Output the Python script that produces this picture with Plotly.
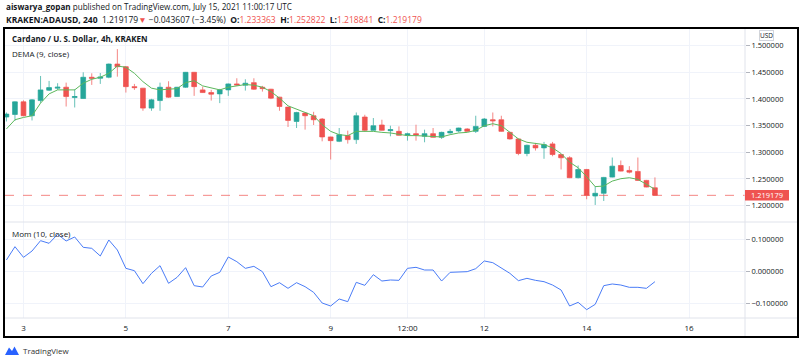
import plotly.graph_objects as go

# ---------------- data ----------------
dates = [
    "2021-07-02 16:00", "2021-07-02 20:00",
    "2021-07-03 00:00", "2021-07-03 04:00", "2021-07-03 08:00", "2021-07-03 12:00", "2021-07-03 16:00", "2021-07-03 20:00",
    "2021-07-04 00:00", "2021-07-04 04:00", "2021-07-04 08:00", "2021-07-04 12:00", "2021-07-04 16:00", "2021-07-04 20:00",
    "2021-07-05 00:00", "2021-07-05 04:00", "2021-07-05 08:00", "2021-07-05 12:00", "2021-07-05 16:00", "2021-07-05 20:00",
    "2021-07-06 00:00", "2021-07-06 04:00", "2021-07-06 08:00", "2021-07-06 12:00", "2021-07-06 16:00", "2021-07-06 20:00",
    "2021-07-07 00:00", "2021-07-07 04:00", "2021-07-07 08:00", "2021-07-07 12:00", "2021-07-07 16:00", "2021-07-07 20:00",
    "2021-07-08 00:00", "2021-07-08 04:00", "2021-07-08 08:00", "2021-07-08 12:00", "2021-07-08 16:00", "2021-07-08 20:00",
    "2021-07-09 00:00", "2021-07-09 04:00", "2021-07-09 08:00", "2021-07-09 12:00", "2021-07-09 16:00", "2021-07-09 20:00",
    "2021-07-10 00:00", "2021-07-10 04:00", "2021-07-10 08:00", "2021-07-10 12:00", "2021-07-10 16:00", "2021-07-10 20:00",
    "2021-07-11 00:00", "2021-07-11 04:00", "2021-07-11 08:00", "2021-07-11 12:00", "2021-07-11 16:00", "2021-07-11 20:00",
    "2021-07-12 00:00", "2021-07-12 04:00", "2021-07-12 08:00", "2021-07-12 12:00", "2021-07-12 16:00", "2021-07-12 20:00",
    "2021-07-13 00:00", "2021-07-13 04:00", "2021-07-13 08:00", "2021-07-13 12:00", "2021-07-13 16:00", "2021-07-13 20:00",
    "2021-07-14 00:00", "2021-07-14 04:00", "2021-07-14 08:00", "2021-07-14 12:00", "2021-07-14 16:00", "2021-07-14 20:00",
    "2021-07-15 00:00", "2021-07-15 04:00", "2021-07-15 08:00",
]

opens = [
    1.3661, 1.3709, 1.3946, 1.3685, 1.3970, 1.4164, 1.4202, 1.4220, 1.4026, 1.4008,
    1.4407, 1.4388, 1.4407, 1.4655, 1.4605, 1.4231, 1.4202, 1.3828, 1.3970, 1.4220,
    1.4045, 1.4220, 1.4500, 1.4170, 1.4120, 1.4095, 1.4170, 1.4282, 1.4258, 1.4306,
    1.4220, 1.4183, 1.4034, 1.3847, 1.3578, 1.3735, 1.3685, 1.3623, 1.3287, 1.3205,
    1.3312, 1.3237, 1.3661, 1.3411, 1.3511, 1.3405, 1.3392, 1.3317, 1.3349, 1.3299,
    1.3349, 1.3280, 1.3362, 1.3399, 1.3437, 1.3392, 1.3485, 1.3610, 1.3610, 1.3373,
    1.3250, 1.2976, 1.3131, 1.3082, 1.3157, 1.2957, 1.2896, 1.2522, 1.2677, 1.2179,
    1.2230, 1.2534, 1.2752, 1.2659, 1.2640, 1.2472, 1.233363,
]
highs = [
    1.3746, 1.3955, 1.3974, 1.3996, 1.4431, 1.4338, 1.4295, 1.4306, 1.4183, 1.4500,
    1.4481, 1.4487, 1.4664, 1.4935, 1.4618, 1.4282, 1.4207, 1.4002, 1.4306, 1.4332,
    1.4225, 1.4506, 1.4506, 1.4231, 1.4170, 1.4189, 1.4291, 1.4388, 1.4369, 1.4388,
    1.4245, 1.4189, 1.4039, 1.3853, 1.3759, 1.3746, 1.3759, 1.3642, 1.3293, 1.3455,
    1.3405, 1.3746, 1.3703, 1.3642, 1.3610, 1.3498, 1.3485, 1.3368, 1.3517, 1.3424,
    1.3455, 1.3386, 1.3437, 1.3461, 1.3452, 1.3685, 1.3642, 1.3746, 1.3685, 1.3386,
    1.3256, 1.3144, 1.3175, 1.3194, 1.3194, 1.2967, 1.2925, 1.2752, 1.2687, 1.2366,
    1.2537, 1.2901, 1.2845, 1.2739, 1.2901, 1.2481, 1.252822,
]
lows = [
    1.3578, 1.3591, 1.3675, 1.3597, 1.3927, 1.4151, 1.4170, 1.3858, 1.3840, 1.4002,
    1.4263, 1.4282, 1.4388, 1.4418, 1.4120, 1.4170, 1.3778, 1.3778, 1.3778, 1.4021,
    1.4039, 1.4207, 1.4058, 1.4114, 1.3970, 1.3922, 1.4058, 1.4245, 1.4157, 1.4170,
    1.4138, 1.3996, 1.3778, 1.3474, 1.3455, 1.3424, 1.3511, 1.3205, 1.2864, 1.3190,
    1.3162, 1.3157, 1.3386, 1.3405, 1.3405, 1.3299, 1.3312, 1.3218, 1.3218, 1.3187,
    1.3274, 1.3250, 1.3349, 1.3373, 1.3386, 1.3362, 1.3479, 1.3485, 1.3386, 1.3237,
    1.2944, 1.2925, 1.3032, 1.2877, 1.2925, 1.2677, 1.2515, 1.2509, 1.2118, 1.2011,
    1.2086, 1.2528, 1.2640, 1.2603, 1.2463, 1.2342, 1.218841,
]
closes = [
    1.3716, 1.3946, 1.3685, 1.3983, 1.4170, 1.4213, 1.4220, 1.4045, 1.4045, 1.4407,
    1.4388, 1.4412, 1.4655, 1.4605, 1.4231, 1.4213, 1.3828, 1.3983, 1.4220, 1.4034,
    1.4220, 1.4500, 1.4231, 1.4120, 1.4090, 1.4170, 1.4282, 1.4263, 1.4295, 1.4183,
    1.4194, 1.4015, 1.3858, 1.3597, 1.3746, 1.3685, 1.3610, 1.3287, 1.3218, 1.3330,
    1.3237, 1.3685, 1.3411, 1.3498, 1.3411, 1.3424, 1.3317, 1.3349, 1.3325, 1.3349,
    1.3280, 1.3373, 1.3392, 1.3455, 1.3392, 1.3485, 1.3623, 1.3591, 1.3392, 1.3250,
    1.2976, 1.3131, 1.3082, 1.3144, 1.2957, 1.2896, 1.2522, 1.2677, 1.2192, 1.2230,
    1.2528, 1.2739, 1.2646, 1.2627, 1.2472, 1.2347, 1.219179,
]
dema = [
    1.3437, 1.3610, 1.3653, 1.3685, 1.3922, 1.4095, 1.4170, 1.4170, 1.4170, 1.4295,
    1.4369, 1.4407, 1.4481, 1.4618, 1.4594, 1.4481, 1.4325, 1.4202, 1.4170, 1.4183,
    1.4194, 1.4306, 1.4343, 1.4245, 1.4202, 1.4170, 1.4220, 1.4245, 1.4270, 1.4258,
    1.4220, 1.4138, 1.4015, 1.3871, 1.3810, 1.3746, 1.3685, 1.3517, 1.3392, 1.3330,
    1.3312, 1.3392, 1.3392, 1.3392, 1.3373, 1.3362, 1.3336, 1.3312, 1.3312, 1.3299,
    1.3287, 1.3287, 1.3330, 1.3362, 1.3373, 1.3411, 1.3498, 1.3535, 1.3498, 1.3373,
    1.3250, 1.3187, 1.3162, 1.3144, 1.3082, 1.2976, 1.2814, 1.2709, 1.2541, 1.2355,
    1.2366, 1.2459, 1.2504, 1.2522, 1.2491, 1.2398, 1.2305,
]
momentum = [
    0.0344, 0.0760, 0.0427, 0.0625, 0.0948, 0.0865, 0.1146, 0.0938, 0.1063, 0.0740,
    0.0708, 0.0469, 0.0969, 0.0656, 0.0083, 0.0010, -0.0396, -0.0073, 0.0167, -0.0385,
    -0.0198, 0.0104, -0.0458, -0.0500, -0.0156, -0.0042, 0.0438, 0.0292, 0.0083, 0.0146,
    -0.0021, -0.0490, -0.0365, -0.0542, -0.0365, -0.0490, -0.0667, -0.1000, -0.1094, -0.0875,
    -0.0958, -0.0354, -0.0448, -0.0115, -0.0313, -0.0281, -0.0292, 0.0083, 0.0115, 0.0031,
    0.0031, -0.0313, -0.0042, -0.0042, -0.0021, 0.0073, 0.0313, 0.0260, 0.0083, -0.0073,
    -0.0302, -0.0229, -0.0292, -0.0333, -0.0438, -0.0594, -0.1094, -0.0979, -0.1208, -0.1042,
    -0.0458, -0.0406, -0.0438, -0.0510, -0.0510, -0.0542, -0.0333,
]

change_abs = -0.043607
change_pct = -3.45

x_tickvals = ["2021-07-03", "2021-07-05", "2021-07-07", "2021-07-09",
              "2021-07-10 12:00", "2021-07-12", "2021-07-14", "2021-07-16"]
x_ticktext = ["3", "5", "7", "9", "12:00", "12", "14", "16"]
price_tickvals = [1.20, 1.25, 1.30, 1.35, 1.40, 1.45, 1.50]
price_ticktext = ["1.200000", "1.250000", "1.300000", "1.350000", "1.400000", "1.450000", "1.500000"]
mom_tickvals = [-0.1, 0.0, 0.1]
mom_ticktext = ["\u22120.100000", "0.000000", "0.100000"]

# ---------------- layout helpers ----------------
W, H = 800, 362
ML, MR, MT, MB = 5, 55, 28, 44
PW = W - ML - MR
PH = H - MT - MB
PLOT_BOTTOM = H - MB


def px(x):
    return (x - ML) / PW


def py(y):
    return (PLOT_BOTTOM - y) / PH


PANE_SPLIT = 222
FONT = "Open Sans, Noto Sans, sans-serif"
TXT = "#131722"
GRID = "#f0f3fa"
UP = "#26a69a"
DN = "#ef5350"

fig = go.Figure()

fig.add_trace(go.Candlestick(
    x=dates, open=opens, high=highs, low=lows, close=closes,
    increasing=dict(fillcolor=UP, line=dict(color="rgba(38,166,154,0.7)", width=1)),
    decreasing=dict(fillcolor=DN, line=dict(color="rgba(239,83,80,0.7)", width=1)),
    whiskerwidth=0, xaxis="x", yaxis="y", showlegend=False, hoverinfo="skip",
))
fig.add_trace(go.Scatter(
    x=dates, y=dema, mode="lines", line=dict(color="#5cb85c", width=1),
    xaxis="x", yaxis="y", showlegend=False, hoverinfo="skip",
))
fig.add_trace(go.Scatter(
    x=dates, y=momentum, mode="lines", line=dict(color="#4a7cf7", width=1),
    xaxis="x", yaxis="y2", showlegend=False, hoverinfo="skip",
))

price_top = 1.45 + (72.3 - MT) / 533
price_bot = 1.45 - (PANE_SPLIT - 72.3) / 533
mom_top = (271 - PANE_SPLIT) / 320
mom_bot = (271 - PLOT_BOTTOM) / 320

fig.update_layout(
    width=W, height=H,
    margin=dict(l=ML, r=MR, t=MT, b=MB, pad=0),
    paper_bgcolor="white", plot_bgcolor="white",
    font=dict(family=FONT, size=8, color=TXT),
    showlegend=False,
    boxgap=0.2,
    xaxis=dict(
        type="date", range=["2021-07-02 15:20", "2021-07-17 02:13"],
        anchor="y2", domain=[0, 1],
        tickvals=x_tickvals, ticktext=x_ticktext,
        showgrid=True, gridcolor=GRID, gridwidth=1,
        showline=False, zeroline=False, ticks="", ticklen=0,
        ticklabelstandoff=4,
        rangeslider=dict(visible=False),
        tickfont=dict(size=8, color=TXT),
    ),
    yaxis=dict(
        domain=[py(PANE_SPLIT), 1], range=[price_bot, price_top],
        side="right", anchor="x",
        tickvals=price_tickvals, ticktext=price_ticktext,
        showgrid=True, gridcolor=GRID, gridwidth=1,
        zeroline=False, showline=False, ticks="outside", ticklen=4,
        tickcolor="#b2b5be", tickfont=dict(size=7.5, color=TXT),
    ),
    yaxis2=dict(
        domain=[0, py(PANE_SPLIT)], range=[mom_bot, mom_top],
        side="right", anchor="x",
        tickvals=mom_tickvals, ticktext=mom_ticktext,
        showgrid=True, gridcolor=GRID, gridwidth=1,
        zeroline=False, showline=False, ticks="outside", ticklen=4,
        tickcolor="#b2b5be", tickfont=dict(size=7.5, color=TXT),
    ),
)

shapes = []
# current price dashed line
shapes.append(dict(type="line", xref="paper", yref="y", x0=0, x1=1,
                   y0=closes[-1], y1=closes[-1],
                   line=dict(color="rgba(239,83,80,0.7)", width=1, dash="dash")))
# price axis separator
shapes.append(dict(type="line", xref="paper", yref="paper", x0=1, x1=1,
                   y0=py(337), y1=py(MT), line=dict(color="#e0e3eb", width=1)))
# pane separator
shapes.append(dict(type="line", xref="paper", yref="paper", x0=px(4), x1=px(798),
                   y0=py(PANE_SPLIT), y1=py(PANE_SPLIT), line=dict(color="#e0e3eb", width=1)))
# time axis top line
shapes.append(dict(type="line", xref="paper", yref="paper", x0=px(4), x1=px(798),
                   y0=0, y1=0, line=dict(color="#e0e3eb", width=1)))
# outer frame
shapes.append(dict(type="rect", xref="paper", yref="paper", x0=px(4), x1=px(798),
                   y0=py(337), y1=py(MT), line=dict(color="black", width=2)))
# current price label background
shapes.append(dict(type="rect", xref="paper", yref="paper", x0=px(745), x1=px(789),
                   y0=py(200.5), y1=py(190), line=dict(width=0), fillcolor=DN))
# TradingView logo icon
logo = [(5, 355), (9, 347.5), (12, 351), (14.5, 346.5), (19, 355)]
path = "M " + " L ".join(f"{px(a):.5f},{py(b):.5f}" for a, b in logo) + " Z"
shapes.append(dict(type="path", xref="paper", yref="paper", path=path,
                   line=dict(width=0), fillcolor="#2962ff"))
fig.update_layout(shapes=shapes)

red = DN
header2 = (
    f"<b>KRAKEN:ADAUSD, 240</b>  {closes[-1]:.6f}<span style='color:{red}'>\u25bc</span>"
    f" \u2212{abs(change_abs):.6f} (\u2212{abs(change_pct):.2f}%)  "
    f"<b>O:</b><span style='color:{red}'>{opens[-1]:.6f}</span>  "
    f"<b>H:</b><span style='color:{red}'>{highs[-1]:.6f}</span>  "
    f"<b>L:</b><span style='color:{red}'>{lows[-1]:.6f}</span>  "
    f"<b>C:</b><span style='color:{red}'>{closes[-1]:.6f}</span>"
)

annotations = [
    dict(text="<b>aiswarya_gopan</b> published on TradingView.com, July 15, 2021 11:00:17 UTC",
         x=px(4), y=py(7), font=dict(size=8.1, color=TXT)),
    dict(text=header2, x=px(4), y=py(19), font=dict(size=8.5, color=TXT)),
    dict(text="<b>Cardano / U. S. Dollar, 4h, KRAKEN</b>", x=px(10), y=py(39),
         font=dict(size=8, color=TXT)),
    dict(text="DEMA (9, close)", x=px(10), y=py(54), font=dict(size=8, color=TXT)),
    dict(text="Mom (10, close)", x=px(10), y=py(233), font=dict(size=8, color=TXT)),
    dict(text="TradingView", x=px(21), y=py(350), font=dict(size=8, color="#333333")),
]
for a in annotations:
    a.update(xref="paper", yref="paper", xanchor="left", yanchor="middle",
             showarrow=False, align="left")

annotations.append(dict(text=f"{closes[-1]:.6f}", xref="paper", yref="paper",
                        x=px(767), y=py(195.3), xanchor="center", yanchor="middle",
                        showarrow=False, font=dict(size=7.5, color="white")))
annotations.append(dict(text="USD", xref="paper", yref="paper",
                        x=px(767), y=py(35), xanchor="center", yanchor="middle",
                        showarrow=False, font=dict(size=6.5, color=TXT),
                        bgcolor="white", bordercolor="#d1d4dc", borderwidth=1, borderpad=0))
fig.update_layout(annotations=annotations)

fig.write_html("out.html", config={"displayModeBar": False},
               post_script="document.body.style.margin='0';document.body.style.overflow='hidden';")
